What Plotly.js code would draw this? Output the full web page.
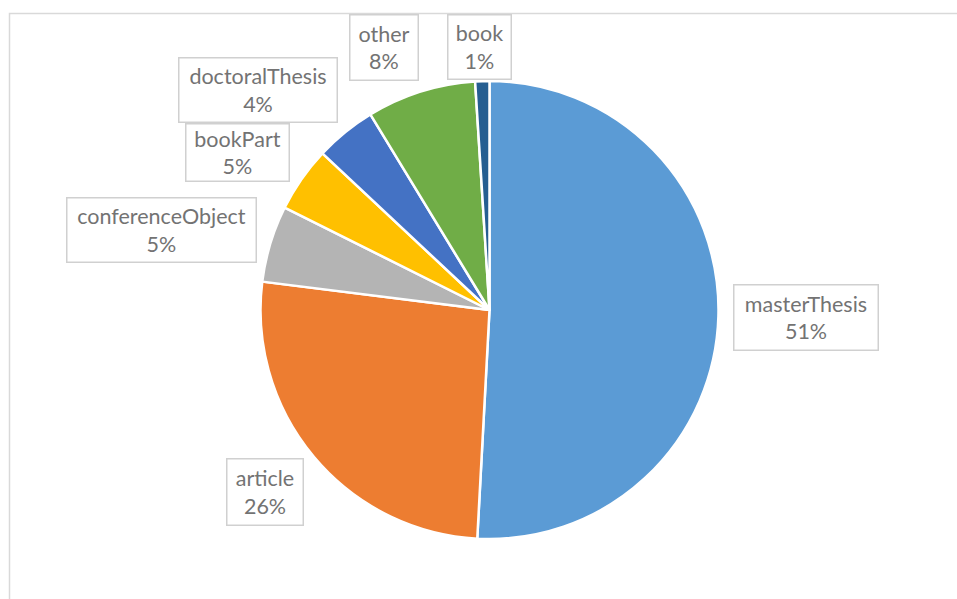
<!DOCTYPE html>
<html>
<head>
<meta charset="utf-8">
<script src="https://cdn.plot.ly/plotly-3.0.1.min.js"></script>
<style>
  html, body { margin: 0; padding: 0; background: #ffffff; }
  #chart { width: 957px; height: 599px; }
</style>
</head>
<body>
<div id="chart"></div>
<script>
// Data
const categories = ['masterThesis', 'article', 'conferenceObject', 'bookPart', 'doctoralThesis', 'other', 'book'];
const counts = [508, 261, 54, 46, 43, 77, 10];
const sliceColors = ['#5B9BD5', '#ED7D31', '#B4B4B4', '#FFC000', '#4472C4', '#70AD47', '#255E91'];

// Label box layout (pixel centres and sizes in the 957x599 page)
const W = 957, H = 599;
const boxes = {
  masterThesis:     {cx: 806,   cy: 317.5, w: 146, h: 67},
  article:          {cx: 264.5, cy: 491.5, w: 78,  h: 68},
  conferenceObject: {cx: 161,   cy: 230,   w: 191, h: 66},
  bookPart:         {cx: 237.5, cy: 152.5, w: 105, h: 59},
  doctoralThesis:   {cx: 258,   cy: 90,    w: 160, h: 66},
  other:            {cx: 384,   cy: 47.5,  w: 70,  h: 67},
  book:             {cx: 479,   cy: 47,    w: 65,  h: 66}
};

const total = counts.reduce((a, b) => a + b, 0);
const pct = counts.map(v => Math.round(v / total * 100));

const cx = 489.5, cy = 310, r = 229;

const trace = {
  type: 'pie',
  labels: categories,
  values: counts,
  sort: false,
  direction: 'clockwise',
  rotation: 0,
  textinfo: 'none',
  hoverinfo: 'label+percent',
  marker: { colors: sliceColors, line: { color: '#ffffff', width: 2.5 } },
  domain: {
    x: [(cx - r) / W, (cx + r) / W],
    y: [1 - (cy + r) / H, 1 - (cy - r) / H]
  },
  showlegend: false
};

const bw = 1.5;
const annotations = categories.map((c, i) => {
  const b = boxes[c];
  return {
    xref: 'paper', yref: 'paper',
    x: b.cx / W, y: 1 - b.cy / H,
    xanchor: 'center', yanchor: 'middle',
    showarrow: false,
    text: c + '<br>' + pct[i] + '%',
    font: { family: 'Lato, "Open Sans", sans-serif', size: 21.5, color: '#737373' },
    align: 'center',
    bgcolor: '#ffffff',
    bordercolor: '#D0D0D0',
    borderwidth: bw,
    borderpad: 0,
    width: b.w - 2 * bw,
    height: b.h - 2 * bw
  };
});

const layout = {
  width: W, height: H,
  margin: { l: 0, r: 0, t: 0, b: 0 },
  paper_bgcolor: '#ffffff',
  showlegend: false,
  annotations: annotations,
  shapes: [{
    type: 'rect', xref: 'paper', yref: 'paper',
    x0: 9.5 / W, x1: 1.05, y0: -0.05, y1: 1 - 13.5 / H,
    line: { color: '#D9D9D9', width: 1.5 },
    fillcolor: 'rgba(0,0,0,0)',
    layer: 'below'
  }]
};

Plotly.newPlot('chart', [trace], layout, { displayModeBar: false, staticPlot: true });
</script>
</body>
</html>
